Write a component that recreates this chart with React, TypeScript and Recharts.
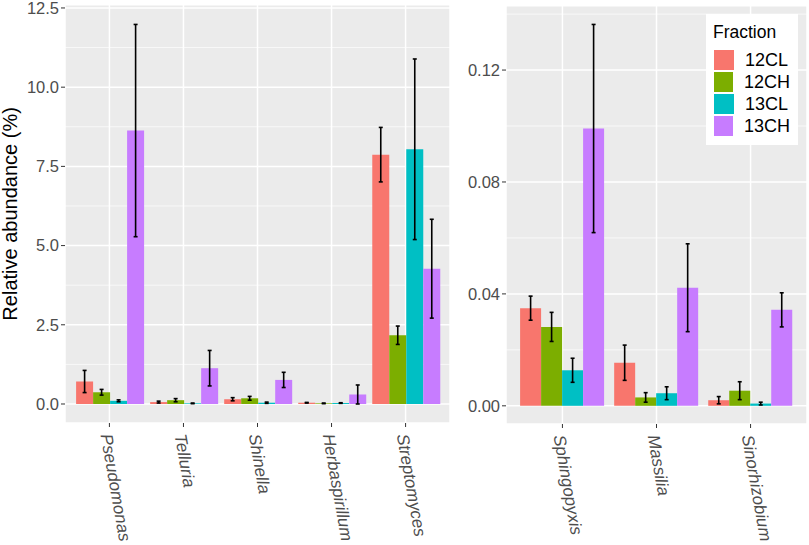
import React from "react";
import {
  BarChart,
  Bar,
  ErrorBar,
  XAxis,
  YAxis,
  CartesianGrid,
  Legend,
} from "recharts";

const FONT = '"Liberation Sans", Arial, Helvetica, sans-serif';

const fractions = ["12CL", "12CH", "13CL", "13CH"];
const fractionColors = ["#F8766D", "#7CAE00", "#00BFC4", "#C77CFF"];

// left panel: abundant genera (%)
const leftGenera = ["Pseudomonas", "Telluria", "Shinella", "Herbaspirillum", "Streptomyces"];
const left12CL = [0.71, 0.06, 0.15, 0.04, 7.87];
const left12CLErr = [0.35, 0.03, 0.05, 0.01, 0.86];
const left12CH = [0.37, 0.12, 0.18, 0.02, 2.17];
const left12CHErr = [0.09, 0.05, 0.06, 0.01, 0.29];
const left13CL = [0.1, 0.02, 0.04, 0.03, 8.04];
const left13CLErr = [0.03, 0.01, 0.02, 0.01, 2.85];
const left13CH = [8.63, 1.13, 0.76, 0.3, 4.27];
const left13CHErr = [3.35, 0.56, 0.24, 0.3, 1.56];
const leftTicks = [0, 2.5, 5, 7.5, 10, 12.5];
const leftMinor = [1.25, 3.75, 6.25, 8.75, 11.25];

// right panel: rare genera (%)
const rightGenera = ["Sphingopyxis", "Massilia", "Sinorhizobium"];
const right12CL = [0.0349, 0.0154, 0.002];
const right12CLErr = [0.0043, 0.0063, 0.0013];
const right12CH = [0.0282, 0.003, 0.0054];
const right12CHErr = [0.0052, 0.0017, 0.0032];
const right13CL = [0.0127, 0.0045, 0.0008];
const right13CLErr = [0.0043, 0.0023, 0.0005];
const right13CH = [0.0991, 0.0422, 0.0343];
const right13CHErr = [0.0372, 0.0157, 0.0061];
const rightTicks = [0, 0.04, 0.08, 0.12];
const rightMinor = [0.02, 0.06, 0.1, 0.14];

const buildRows = (genera, vals, errs) =>
  genera.map((genus, i) => {
    const row: any = { genus };
    fractions.forEach((f, k) => {
      row["v" + f] = vals[k][i];
      row["e" + f] = errs[k][i];
    });
    return row;
  });

const leftRows = buildRows(
  leftGenera,
  [left12CL, left12CH, left13CL, left13CH],
  [left12CLErr, left12CHErr, left13CLErr, left13CHErr]
);
const rightRows = buildRows(
  rightGenera,
  [right12CL, right12CH, right13CL, right13CH],
  [right12CLErr, right12CHErr, right13CLErr, right13CHErr]
);

const GenusTick = ({ x, y, payload }: any) => (
  <g transform={`translate(${x - 3},${y})`}>
    <text
      transform="rotate(80)"
      x={0}
      y={0}
      dy="0.35em"
      textAnchor="start"
      fontStyle="italic"
      fontSize={17}
      fontFamily={FONT}
      fill="#4D4D4D"
    >
      {payload.value}
    </text>
  </g>
);

const FractionLegend = () => (
  <div
    style={{
      background: "#FFFFFF",
      width: 92,
      height: 131,
      boxSizing: "border-box",
      padding: "8px 8px 0 8px",
      fontFamily: FONT,
      color: "#000",
    }}
  >
    <div style={{ fontSize: 17.5, lineHeight: "20px", marginBottom: 6.5, marginLeft: -1 }}>Fraction</div>
    {fractions.map((f, i) => (
      <div key={f} style={{ display: "flex", alignItems: "center", height: 22 }}>
        <span style={{ width: 20, height: 20, background: fractionColors[i], display: "inline-block" }} />
        <span style={{ marginLeft: 11, fontSize: 18, lineHeight: "22px" }}>{f}</span>
      </div>
    ))}
  </div>
);

const series = () =>
  fractions.map((f, i) => (
    <Bar key={f} dataKey={"v" + f} name={f} fill={fractionColors[i]} isAnimationActive={false}>
      <ErrorBar dataKey={"e" + f} width={2} strokeWidth={1.6} stroke="#000" isAnimationActive={false} />
    </Bar>
  ));

const yTick = { fontSize: 16.5, fill: "#4D4D4D", fontFamily: FONT };

export default function App() {
  return (
    <div style={{ position: "absolute", left: 0, top: 0, width: 809, height: 545, background: "#fff" }}>
      <div style={{ position: "absolute", left: 0, top: 0 }}>
        <BarChart
          width={450}
          height={545}
          data={leftRows}
          margin={{ top: 4.8, right: 0, left: 0, bottom: 0 }}
          barCategoryGap="5%"
          barGap={0}
        >
          <CartesianGrid fill="#EBEBEB" stroke="#FFFFFF" strokeWidth={0.7} vertical={false} horizontalValues={leftMinor} />
          <CartesianGrid stroke="#FFFFFF" strokeWidth={1.5} />
          <XAxis
            dataKey="genus"
            type="category"
            interval={0}
            height={122}
            padding={{ left: 7.4, right: 7.4 }}
            axisLine={false}
            tickSize={4}
            tickMargin={7}
            tickLine={{ stroke: "#333333" }}
            tick={<GenusTick />}
          />
          <YAxis
            type="number"
            domain={[-0.6, 12.6]}
            allowDataOverflow
            ticks={leftTicks}
            interval={0}
            width={65}
            axisLine={false}
            tickSize={4}
            tickMargin={2}
            tickLine={{ stroke: "#333333" }}
            tick={yTick}
            tickFormatter={(v) => v.toFixed(1)}
            label={{
              value: "Relative abundance (%)",
              angle: -90,
              position: "insideLeft",
              offset: 10,
              style: { textAnchor: "middle", fontSize: 20, fill: "#000", fontFamily: FONT },
            }}
          />
          {series()}
        </BarChart>
      </div>
      <div style={{ position: "absolute", left: 450, top: 0 }}>
        <BarChart
          width={359}
          height={545}
          data={rightRows}
          margin={{ top: 5.7, right: 2, left: 0, bottom: 0 }}
          barCategoryGap="5%"
          barGap={0}
        >
          <CartesianGrid fill="#EBEBEB" stroke="#FFFFFF" strokeWidth={0.7} vertical={false} horizontalValues={rightMinor} />
          <CartesianGrid stroke="#FFFFFF" strokeWidth={1.5} />
          <XAxis
            dataKey="genus"
            type="category"
            interval={0}
            height={121}
            padding={{ left: 9.4, right: 9.4 }}
            axisLine={false}
            tickSize={4}
            tickMargin={7}
            tickLine={{ stroke: "#333333" }}
            tick={<GenusTick />}
          />
          <YAxis
            type="number"
            domain={[-0.0065, 0.143]}
            allowDataOverflow
            ticks={rightTicks}
            interval={0}
            width={56}
            axisLine={false}
            tickSize={4}
            tickMargin={2}
            tickLine={{ stroke: "#333333" }}
            tick={yTick}
            tickFormatter={(v) => v.toFixed(2)}
          />
          {series()}
          <Legend
            layout="vertical"
            align="center"
            verticalAlign="middle"
            content={<FractionLegend />}
            wrapperStyle={{ left: 256, top: 14, width: 92, height: 131 }}
          />
        </BarChart>
      </div>
    </div>
  );
}
